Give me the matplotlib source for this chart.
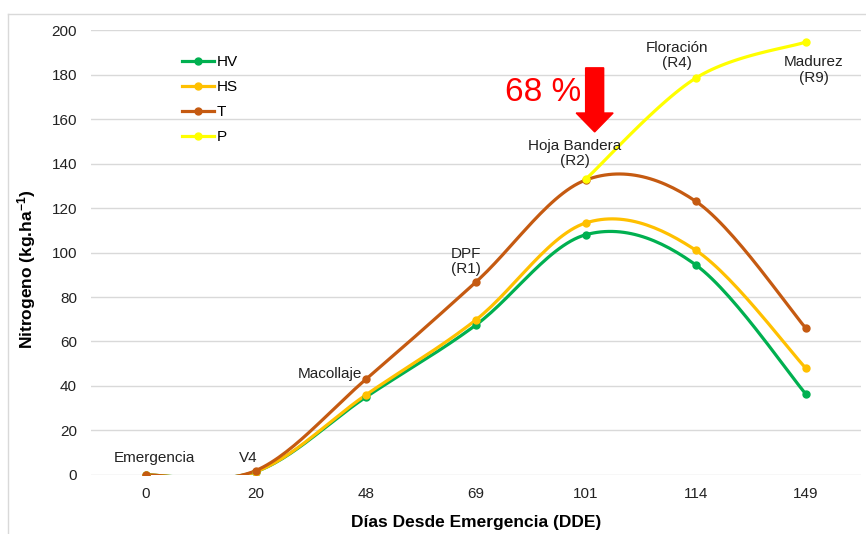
import numpy as np
import matplotlib
matplotlib.use('Agg')
import matplotlib.pyplot as plt
from matplotlib.lines import Line2D
from matplotlib.patches import FancyArrow

plt.rcParams['font.family'] = ['Liberation Sans', 'DejaVu Sans']
plt.rcParams['mathtext.default'] = 'regular'

# dias desde emergencia (eje de categorias)
dias = ['0', '20', '48', '69', '101', '114', '149']
etapas = ['Emergencia', 'V4', 'Macollaje', 'DPF\n(R1)', 'Hoja Bandera\n(R2)',
          'Floración\n(R4)', 'Madurez\n(R9)']

hv = [0, 1.5, 35, 67.4, 108, 94.4, 36.4]
hs = [0, 1.5, 36, 69.7, 113.3, 101, 48]
t = [0, 2, 43, 86.7, 132.6, 123, 66]
p = [None, None, None, None, 133, 178.4, 194.6]

series = [('HV', hv, '#00B050'), ('HS', hs, '#FFC000'),
          ('T', t, '#C55A11'), ('P', p, '#FFFF00')]


def suavizar(x, y, n=30):
    # curva tipo catmull-rom, como el "linea suavizada" de excel
    x = np.asarray(x, float)
    y = np.asarray(y, float)
    xs, ys = [], []
    for i in range(len(x) - 1):
        x0, y0 = (x[i - 1], y[i - 1]) if i > 0 else (x[i], y[i])
        x3, y3 = (x[i + 2], y[i + 2]) if i + 2 < len(x) else (x[i + 1], y[i + 1])
        x1, y1, x2, y2 = x[i], y[i], x[i + 1], y[i + 1]
        c1x, c1y = x1 + (x2 - x0) / 6, y1 + (y2 - y0) / 6
        c2x, c2y = x2 - (x3 - x1) / 6, y2 - (y3 - y1) / 6
        s = np.linspace(0, 1, n)
        bx = (1-s)**3*x1 + 3*(1-s)**2*s*c1x + 3*(1-s)*s**2*c2x + s**3*x2
        by = (1-s)**3*y1 + 3*(1-s)**2*s*c1y + 3*(1-s)*s**2*c2y + s**3*y2
        xs.extend(bx)
        ys.extend(by)
    return xs, ys


fig = plt.figure(figsize=(8.66, 5.34), dpi=100)
ax = fig.add_axes([0.105, 0.1105, 0.889, 0.8333])

handles = []
for nombre, vals, color in series:
    idx = [i for i, v in enumerate(vals) if v is not None]
    yv = [vals[i] for i in idx]
    sx, sy = suavizar(idx, yv)
    ax.plot(sx, sy, color=color, lw=2.3, solid_capstyle='round', zorder=3)
    ax.plot(idx, yv, 'o', color=color, ms=5, zorder=4)
    handles.append(Line2D([], [], color=color, lw=2.3, marker='o', ms=5, label=nombre))

ax.set_xlim(-0.5, 6.5)
ax.set_ylim(0, 200)
ax.set_yticks(range(0, 201, 20))
ax.set_xticks(range(len(dias)))
ax.set_xticklabels(dias)
ax.tick_params(length=0, labelsize=11, colors='#222222', pad=9)
ax.tick_params(axis='y', pad=10)
ax.grid(axis='y', color='#D9D9D9', lw=1)
ax.set_axisbelow(True)
for s in ax.spines.values():
    s.set_visible(False)

ax.set_xlabel('Días Desde Emergencia (DDE)', fontsize=12.5, fontweight='bold', labelpad=10)
ax.set_ylabel('Nitrogeno (kg.ha$^{-1}$)', fontsize=12.5, fontweight='bold')
ax.yaxis.set_label_coords(-0.069, 0.463)

# etiquetas de etapas fenologicas
pos_etapas = [(0.08, 4.5), (0.93, 4.5), (1.67, 42.4), (2.91, 89.5), (3.9, 138),
              (4.83, 182), (6.07, 175.5)]
for texto, (xe, ye) in zip(etapas, pos_etapas):
    ax.text(xe, ye, texto, ha='center', va='bottom', fontsize=11,
            color='#222222', linespacing=1.1)

ax.text(3.61, 172, '68 %', color='#FF0000', fontsize=24, ha='center', va='center')
ax.add_patch(FancyArrow(4.08, 183, 0, -28.8, width=0.164, head_width=0.336,
                        head_length=8.5, length_includes_head=True,
                        color='#FF0000', zorder=5))

ax.legend(handles=handles, loc='upper left', bbox_to_anchor=(0.1, 0.975),
          frameon=False, fontsize=11, handlelength=2.1, handletextpad=0.2,
          labelspacing=0.72)

# borde del area del grafico
fig.add_artist(Line2D([0.009, 0.009], [0, 0.974], color='#D9D9D9', lw=1))
fig.add_artist(Line2D([0.009, 1.0], [0.974, 0.974], color='#D9D9D9', lw=1))

fig.savefig('out.png', dpi=100)
